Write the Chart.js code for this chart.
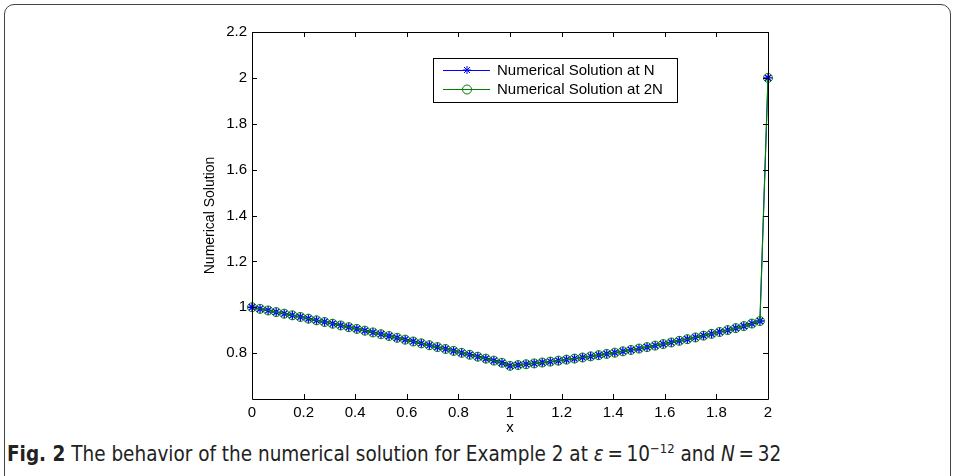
<!DOCTYPE html>
<html>
<head>
<meta charset="utf-8">
<script src="https://cdn.jsdelivr.net/npm/chart.js@4.4.1/dist/chart.umd.min.js"></script>
<style>
  html, body { margin: 0; padding: 0; background: #fff; }
  body { width: 955px; height: 476px; position: relative; overflow: hidden; }
  #frame {
    position: absolute; left: 4px; top: 4px; width: 945px; height: 480px;
    border: 1.5px solid #444; border-radius: 10px;
  }
  #wrap { position: absolute; left: 0; top: 0; width: 955px; height: 440px; }
  #caption {
    position: absolute; left: 7px; top: 442px; white-space: nowrap;
    font-family: "Liberation Sans Narrow", "DejaVu Sans Condensed", sans-serif;
    font-size: 20.5px; color: #222;
  }
  #caption b { font-weight: bold; }
  #caption sup { font-size: 13px; vertical-align: 8px; line-height: 0; }
</style>
</head>
<body>
<div id="frame"></div>
<div id="wrap"><canvas id="solChart"></canvas></div>
<div id="caption"><b>Fig. 2</b> The behavior of the numerical solution for Example 2 at <i>ε</i>&#8201;=&#8201;10<sup>−12</sup> and <i>N</i>&#8201;=&#8201;32</div>
<script>
// メッシュ点 x
const xNodes = [0, 0.03125, 0.0625, 0.09375, 0.125, 0.15625, 0.1875, 0.21875, 0.25, 0.28125,
  0.3125, 0.34375, 0.375, 0.40625, 0.4375, 0.46875, 0.5, 0.53125, 0.5625, 0.59375,
  0.625, 0.65625, 0.6875, 0.71875, 0.75, 0.78125, 0.8125, 0.84375, 0.875, 0.90625,
  0.9375, 0.96875, 1, 1.03125, 1.0625, 1.09375, 1.125, 1.15625, 1.1875, 1.21875,
  1.25, 1.28125, 1.3125, 1.34375, 1.375, 1.40625, 1.4375, 1.46875, 1.5, 1.53125,
  1.5625, 1.59375, 1.625, 1.65625, 1.6875, 1.71875, 1.75, 1.78125, 1.8125, 1.84375,
  1.875, 1.90625, 1.9375, 1.96875, 2];

// N での数値解
const solutionN = [1.000, 0.9931, 0.9861, 0.9791, 0.9720, 0.9649, 0.9577, 0.9504, 0.9431, 0.9358,
  0.9283, 0.9208, 0.9133, 0.9057, 0.8980, 0.8903, 0.8825, 0.8747, 0.8668, 0.8588,
  0.8508, 0.8427, 0.8346, 0.8264, 0.8181, 0.8098, 0.8014, 0.7930, 0.7845, 0.7760,
  0.7674, 0.7580, 0.7450, 0.7482, 0.7516, 0.7553, 0.7591, 0.7631, 0.7673, 0.7717,
  0.7763, 0.7810, 0.7860, 0.7912, 0.7966, 0.8021, 0.8079, 0.8138, 0.8200, 0.8263,
  0.8329, 0.8396, 0.8466, 0.8537, 0.8610, 0.8685, 0.8763, 0.8842, 0.8923, 0.9006,
  0.9091, 0.9178, 0.9290, 0.9400, 2.000];

// 2N での数値解
const solution2N = [1.000, 0.9930, 0.9860, 0.9790, 0.9719, 0.9648, 0.9576, 0.9503, 0.9430, 0.9357,
  0.9282, 0.9207, 0.9132, 0.9056, 0.8979, 0.8902, 0.8824, 0.8746, 0.8667, 0.8587,
  0.8507, 0.8426, 0.8345, 0.8263, 0.8180, 0.8097, 0.8013, 0.7929, 0.7844, 0.7759,
  0.7673, 0.7578, 0.7445, 0.7480, 0.7515, 0.7552, 0.7590, 0.7630, 0.7672, 0.7716,
  0.7762, 0.7809, 0.7859, 0.7911, 0.7965, 0.8020, 0.8078, 0.8137, 0.8199, 0.8262,
  0.8328, 0.8395, 0.8465, 0.8536, 0.8609, 0.8684, 0.8762, 0.8841, 0.8922, 0.9005,
  0.9090, 0.9177, 0.9289, 0.9398, 2.000];

const seriesLabels = ['Numerical Solution at N', 'Numerical Solution at 2N'];
const xTickValues = [0, 0.2, 0.4, 0.6, 0.8, 1, 1.2, 1.4, 1.6, 1.8, 2];
const yTickValues = [0.8, 1, 1.2, 1.4, 1.6, 1.8, 2, 2.2];

const FONT = '"Liberation Sans", Arial, sans-serif';
const BLUE = '#0000ff';
const GREEN = '#008000';

function toPoints(xs, ys) {
    return xs.map((x, i) => ({ x: x, y: ys[i] }));
}

function fmt(v) {
    return String(Math.round(v * 10) / 10);
}

// 軸の枠・内向き目盛・凡例
const matlabFrame = {
    id: 'matlabFrame',
    afterDraw(chart) {
        const ctx = chart.ctx;
        const a = chart.chartArea;
        const xs = chart.scales.x;
        const ys = chart.scales.y;
        ctx.save();
        ctx.strokeStyle = '#000';
        ctx.lineWidth = 1;
        ctx.beginPath();
        ctx.rect(Math.round(a.left) + 0.5, Math.round(a.top) + 0.5,
                 Math.round(a.right - a.left), Math.round(a.bottom - a.top));
        ctx.stroke();

        ctx.beginPath();
        xTickValues.forEach(v => {
            const px = Math.round(xs.getPixelForValue(v)) + 0.5;
            ctx.moveTo(px, a.bottom); ctx.lineTo(px, a.bottom - 5);
            ctx.moveTo(px, a.top); ctx.lineTo(px, a.top + 5);
        });
        yTickValues.forEach(v => {
            const py = Math.round(ys.getPixelForValue(v)) + 0.5;
            ctx.moveTo(a.left, py); ctx.lineTo(a.left + 5, py);
            ctx.moveTo(a.right, py); ctx.lineTo(a.right - 5, py);
        });
        ctx.stroke();

        // 凡例
        const bx = 433, by = 58, bw = 244, bh = 44;
        ctx.fillStyle = '#fff';
        ctx.fillRect(bx, by, bw, bh);
        ctx.strokeStyle = '#000';
        ctx.strokeRect(bx + 0.5, by + 0.5, bw, bh);
        const rows = [70, 89];
        const cols = [BLUE, GREEN];
        rows.forEach((ry, i) => {
            ctx.strokeStyle = cols[i];
            ctx.beginPath();
            ctx.moveTo(443, ry + 0.5); ctx.lineTo(490, ry + 0.5);
            ctx.stroke();
            ctx.beginPath();
            if (i === 0) {
                const r = 4;
                ctx.moveTo(467 - r, ry); ctx.lineTo(467 + r, ry);
                ctx.moveTo(467, ry - r); ctx.lineTo(467, ry + r);
                ctx.moveTo(467 - 3, ry - 3); ctx.lineTo(467 + 3, ry + 3);
                ctx.moveTo(467 - 3, ry + 3); ctx.lineTo(467 + 3, ry - 3);
            } else {
                ctx.arc(467, ry + 0.5, 4.5, 0, Math.PI * 2);
            }
            ctx.stroke();
            ctx.fillStyle = '#000';
            ctx.font = '15px ' + FONT;
            ctx.textAlign = 'left';
            ctx.textBaseline = 'middle';
            ctx.fillText(seriesLabels[i], 497, ry + 1);
        });
        ctx.restore();
    }
};

function createSolutionChart() {
    const ctx = document.getElementById('solChart').getContext('2d');
    new Chart(ctx, {
        type: 'line',
        data: {
            datasets: [{
                label: seriesLabels[0],
                data: toPoints(xNodes, solutionN),
                borderColor: BLUE,
                backgroundColor: BLUE,
                borderWidth: 1,
                pointStyle: 'star',
                pointRadius: 4.5,
                pointBorderColor: BLUE,
                pointBorderWidth: 1.3,
                fill: false,
                tension: 0,
                clip: false,
                order: 1
            }, {
                label: seriesLabels[1],
                data: toPoints(xNodes, solution2N),
                borderColor: GREEN,
                backgroundColor: 'rgba(0,0,0,0)',
                borderWidth: 1.2,
                pointStyle: 'circle',
                pointRadius: 4.5,
                pointBorderColor: GREEN,
                pointBackgroundColor: 'rgba(0,0,0,0)',
                pointBorderWidth: 1,
                fill: false,
                tension: 0,
                clip: false,
                order: 0
            }]
        },
        options: {
            responsive: true,
            maintainAspectRatio: false,
            animation: false,
            events: [],
            layout: { padding: { left: 192, right: 187, top: 32, bottom: 0 } },
            plugins: {
                legend: { display: false },
                tooltip: { enabled: false }
            },
            scales: {
                x: {
                    type: 'linear',
                    min: 0,
                    max: 2,
                    afterFit: s => { s.height = 41; },
                    afterBuildTicks: s => { s.ticks = xTickValues.map(v => ({ value: v })); },
                    grid: { display: false, drawTicks: false },
                    border: { display: false },
                    ticks: {
                        padding: 5,
                        color: '#000',
                        font: { family: FONT, size: 15 },
                        maxRotation: 0,
                        callback: v => fmt(v)
                    },
                    title: {
                        display: true,
                        text: 'x',
                        color: '#000',
                        font: { family: FONT, size: 15 },
                        padding: { top: 0, bottom: 3 }
                    }
                },
                y: {
                    type: 'linear',
                    min: 0.6,
                    max: 2.2,
                    afterFit: s => { s.width = 60; },
                    afterBuildTicks: s => { s.ticks = yTickValues.map(v => ({ value: v })); },
                    grid: { display: false, drawTicks: false },
                    border: { display: false },
                    ticks: {
                        padding: 5,
                        color: '#000',
                        font: { family: FONT, size: 15 },
                        callback: v => fmt(v)
                    },
                    title: {
                        display: true,
                        text: 'Numerical Solution',
                        color: '#000',
                        font: { family: FONT, size: 14 },
                        padding: { top: 10, bottom: 4 }
                    }
                }
            }
        },
        plugins: [matlabFrame]
    });
}

window.onload = function() {
    createSolutionChart();
};
</script>
</body>
</html>
